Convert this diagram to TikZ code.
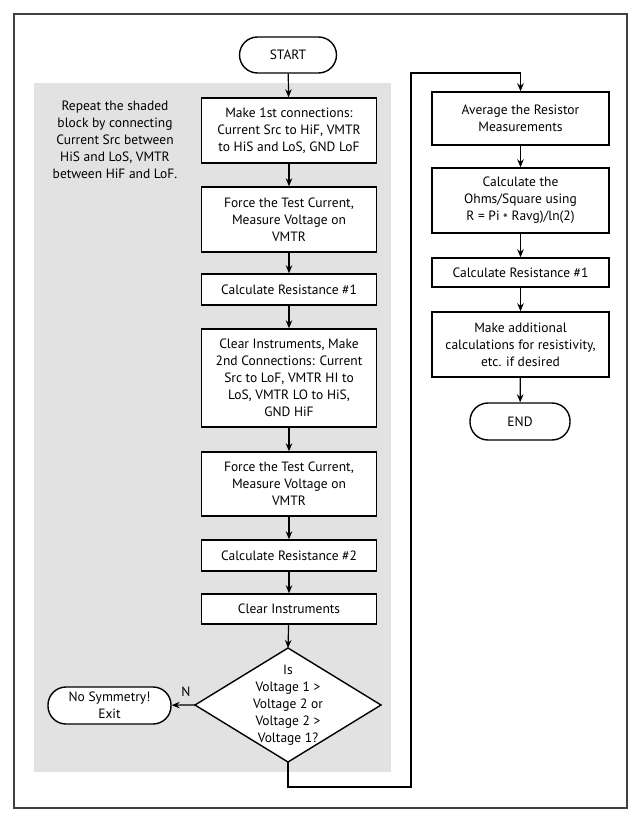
\documentclass[tikz,border=0pt]{standalone}
\usepackage{fontspec}
\setmainfont{PT Sans}
\usetikzlibrary{arrows.meta,positioning}
\definecolor{shadegray}{RGB}{226,226,226}
\definecolor{framegray}{RGB}{64,64,64}
\tikzset{
  every node/.style={font=\fontsize{13.5}{17}\selectfont, align=center},
  procbox/.style={draw=black, fill=white, line width=1.4pt, minimum width=175pt, inner sep=0pt},
  termbox/.style={draw=black, fill=white, line width=1.4pt, rounded corners=18pt, inner sep=0pt},
  flow/.style={line width=1.2pt, -{Stealth[length=8pt,width=6.5pt]}},
}
\begin{document}
\begin{tikzpicture}[x=1pt,y=-1pt]
\useasboundingbox (0,0) rectangle (640,816);
\fill[white] (0,0) rectangle (640,816);
\draw[framegray, line width=2pt] (14,14) rectangle (627,808);
\fill[shadegray] (34,83) rectangle (391,772);

\node[termbox, minimum width=97pt, minimum height=36pt] (start) at (288,55) {START};
\node (note) at (115,140) {Repeat the shaded\\block by connecting\\Current Src between\\HiS and LoS, VMTR\\between HiF and LoF.};

\node[procbox, minimum height=65pt] (b1) at (289,130.5) {Make 1st connections:\\Current Src to HiF, VMTR\\to HiS and LoS, GND LoF};
\node[procbox, minimum height=65pt] (b2) at (289,219.5) {Force the Test Current,\\Measure Voltage on\\VMTR};
\node[procbox, minimum height=31pt] (b3) at (289,289.5) {Calculate Resistance \#1};
\node[procbox, minimum height=98pt] (b4) at (289,378) {Clear Instruments, Make\\2nd Connections: Current\\Src to LoF, VMTR HI to\\LoS, VMTR LO to HiS,\\GND HiF};
\node[procbox, minimum height=64pt] (b5) at (289,484) {Force the Test Current,\\Measure Voltage on\\VMTR};
\node[procbox, minimum height=31pt] (b6) at (289,555.5) {Calculate Resistance \#2};
\node[procbox, minimum height=30pt] (b7) at (289,609) {Clear Instruments};

\coordinate (dc) at (288,705);
\coordinate (dtop) at (288,648);
\coordinate (dbot) at (288,762);
\coordinate (dleft) at (195,705);
\coordinate (dright) at (381,705);
\draw[line width=1.4pt, fill=white] (dtop) -- (dright) -- (dbot) -- (dleft) -- cycle;
\node (dec) at (dc) {Is\\Voltage 1 >\\Voltage 2 or\\Voltage 2 >\\Voltage 1?};

\node[termbox, minimum width=123pt, minimum height=37pt] (nosym) at (109.5,705.5) {No Symmetry!\\Exit};
\node (nlab) at (186,692) {N};

\node[procbox, minimum width=177pt, minimum height=53pt] (r1) at (520.5,118.5) {Average the Resistor\\Measurements};
\node[procbox, minimum width=177pt, minimum height=65pt] (r2) at (520.5,200.5) {Calculate the\\Ohms/Square using\\R = Pi \raisebox{-0.35ex}{*} Ravg)/ln(2)};
\node[procbox, minimum width=177pt, minimum height=29pt] (r3) at (520.5,272.5) {Calculate Resistance \#1};
\node[procbox, minimum width=177pt, minimum height=65pt] (r4) at (520.5,344.5) {Make additional\\calculations for resistivity,\\etc. if desired};
\node[termbox, minimum width=100pt, minimum height=37pt] (end) at (520,421.5) {END};

\draw[flow] (start) -- (b1);
\draw[flow] (b1) -- (b2);
\draw[flow] (b2) -- (b3);
\draw[flow] (b3) -- (b4);
\draw[flow] (b4) -- (b5);
\draw[flow] (b5) -- (b6);
\draw[flow] (b6) -- (b7);
\draw[flow] (b7) -- (dtop);
\draw[flow] (dleft) -- (nosym);

\coordinate (l1) at (288,787);
\coordinate (l2) at (411,787);
\coordinate (l3) at (411,73);
\coordinate (l4) at (520.5,73);
\draw[flow] (dbot) -- (l1) -- (l2) -- (l3) -- (l4) -- (r1.north);

\draw[flow] (r1) -- (r2);
\draw[flow] (r2) -- (r3);
\draw[flow] (r3) -- (r4);
\draw[flow] (r4) -- (end);
\end{tikzpicture}
\end{document}
